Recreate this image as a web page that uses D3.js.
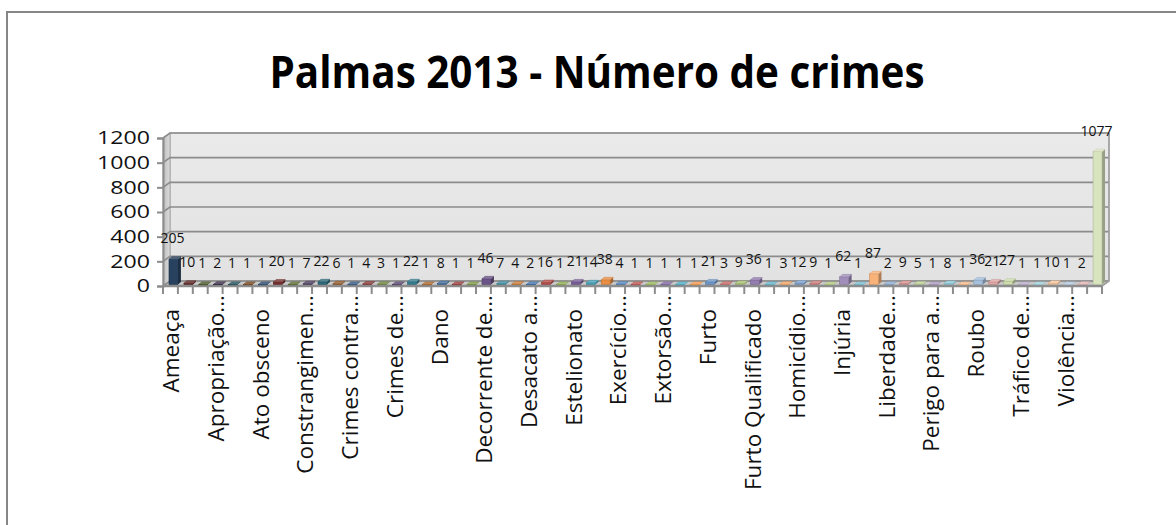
<!DOCTYPE html>
<html>
<head>
<meta charset="utf-8">
<script src="https://cdn.jsdelivr.net/npm/d3@7"></script>
<style>
  html, body { margin: 0; padding: 0; background: #fff; }
  svg { display: block; }
  text { font-family: "Open Sans", "DejaVu Sans", sans-serif; }
</style>
</head>
<body>
<svg id="chart" width="1176" height="525"></svg>
<script>
// ---------------- data ----------------
const title = "Palmas 2013 - Número de crimes";
// visible category labels (one every third category, as shown on the axis)
const categoryLabels = ["Ameaça","Apropriação...","Ato obsceno","Constrangimen...","Crimes contra...",
  "Crimes de...","Dano","Decorrente de...","Desacato a...","Estelionato","Exercício...",
  "Extorsão...","Furto","Furto Qualificado","Homicídio...","Injúria","Liberdade...",
  "Perigo para a...","Roubo","Tráfico de...","Violência..."];
const values = [205,10,1,2,1,1,1,20,1,7,
                22,6,1,4,3,1,22,1,8,1,
                1,46,7,4,2,16,1,21,14,38,
                4,1,1,1,1,1,21,3,9,36,
                1,3,12,9,1,62,1,87,2,9,
                5,1,8,1,36,21,27,1,1,10,
                1,2,1077];
const yTicks = [0,200,400,600,800,1000,1200];
const palette = ["#4F81BD","#C0504D","#9BBB59","#8064A2","#4BACC6","#F79646"];

// ---------------- layout ----------------
const svg = d3.select("#chart");
const W = 1176, H = 525;
const X0 = 163, X1 = 1102;      // front floor edge
const DX = 7, DY = -5;          // depth offset of back wall
const n = values.length;

svg.append("rect").attr("x", 0).attr("y", 0).attr("width", W).attr("height", H).attr("fill", "#fff");
svg.append("rect").attr("x", 7).attr("y", 12).attr("width", 1200).attr("height", 530)
  .attr("fill", "#fff").attr("stroke", "#868686").attr("stroke-width", 2);

const x = d3.scaleBand().domain(d3.range(n)).range([X0, X1]).padding(0);
const y = d3.scaleLinear().domain([0, 1200]).range([286, 138]);

// ---- walls ----
const defs = svg.append("defs");
const gW = defs.append("linearGradient").attr("id", "wallGrad").attr("x1", 0).attr("y1", 0).attr("x2", 0).attr("y2", 1);
gW.append("stop").attr("offset", "0%").attr("stop-color", "#eaeaea");
gW.append("stop").attr("offset", "100%").attr("stop-color", "#e2e2e2");
const gL = defs.append("linearGradient").attr("id", "sideGrad").attr("x1", 0).attr("y1", 0).attr("x2", 1).attr("y2", 0);
gL.append("stop").attr("offset", "0%").attr("stop-color", "#bdbdbd");
gL.append("stop").attr("offset", "100%").attr("stop-color", "#dcdcdc");

const yTop = y(1200), yBot = y(0);
svg.append("rect").attr("x", X0 + DX).attr("y", yTop + DY).attr("width", X1 - X0).attr("height", yBot - yTop)
  .attr("fill", "url(#wallGrad)").attr("stroke", "#a6a6a6").attr("stroke-width", 1);
svg.append("path")
  .attr("d", `M${X0},${yTop} L${X0 + DX},${yTop + DY} L${X0 + DX},${yBot + DY} L${X0},${yBot} Z`)
  .attr("fill", "url(#sideGrad)").attr("stroke", "#a6a6a6").attr("stroke-width", 1);
svg.append("path")
  .attr("d", `M${X0},${yBot} L${X1},${yBot} L${X1 + DX},${yBot + DY} L${X0 + DX},${yBot + DY} Z`)
  .attr("fill", "#c9c9c9").attr("stroke", "#9a9a9a").attr("stroke-width", 1);

// gridlines (side wall + back wall)
const grid = svg.append("g").attr("stroke", "#8c8c8c").attr("stroke-width", 1.6).attr("fill", "none");
yTicks.forEach(t => {
  grid.append("path").attr("d",
    `M${X0},${y(t)} L${X0 + DX},${y(t) + DY} L${X1 + DX},${y(t) + DY}`);
});
grid.append("path").attr("d", `M${X1 + DX},${yTop + DY} L${X1 + DX},${yBot + DY} L${X1},${yBot}`)
  .attr("stroke", "#a0a0a0");

// y axis (line + ticks from the axis generator, labels drawn stretched like the reference)
const yAxis = svg.append("g").attr("transform", `translate(${X0},0)`)
  .call(d3.axisLeft(y).tickValues(yTicks).tickSize(6).tickFormat(""));
yAxis.select(".domain").attr("stroke", "#8c8c8c").attr("stroke-width", 2);
yAxis.selectAll(".tick line").attr("stroke", "#8c8c8c").attr("stroke-width", 2);
svg.append("g").selectAll("text").data(yTicks).join("text")
  .attr("transform", d => `translate(150,${y(d)}) scale(1.3,1)`)
  .attr("text-anchor", "end").attr("dy", "0.36em")
  .attr("font-size", 17.8).attr("fill", "#111")
  .text(d => d3.format("d")(d));

// x axis line + boundary ticks
const xAxisG = svg.append("g");
xAxisG.append("line").attr("x1", X0).attr("x2", X1).attr("y1", yBot).attr("y2", yBot)
  .attr("stroke", "#8c8c8c").attr("stroke-width", 2.5);
const bounds = d3.range(n).map(i => x(i)).concat([X1]);
xAxisG.selectAll("line.tk").data(bounds).join("line").attr("class", "tk")
  .attr("x1", d => d).attr("x2", d => d).attr("y1", yBot).attr("y2", yBot + 8)
  .attr("stroke", "#8c8c8c").attr("stroke-width", 2);

// ---- bars (3D columns) ----
function shade(c, f) {
  const col = d3.rgb(c);
  if (f >= 0) return d3.interpolateRgb(col, "#ffffff")(f);
  return d3.interpolateRgb(col, "#000000")(-f);
}
const nCycles = Math.ceil(n / palette.length);
function barColor(i) {
  const cyc = Math.floor(i / palette.length);
  const f = -0.5 + 1.1 * (cyc / (nCycles - 1));
  return shade(palette[i % palette.length], f);
}
const bw = x.bandwidth() * 0.6;
const OX = 3, OY = -1.5;   // bar front face offset
const BX = 3, BY = -2.5;   // bar depth
const bars = svg.append("g");
values.forEach((v, i) => {
  const c = x(i) + x.bandwidth() / 2 + OX;
  const xl = c - bw / 2, xr = c + bw / 2;
  const yt = y(v) + OY, yb = y(0) + OY;
  const col = barColor(i);
  const g = bars.append("g");
  g.append("path").attr("d", `M${xr},${yt} L${xr + BX},${yt + BY} L${xr + BX},${yb + BY} L${xr},${yb} Z`)
    .attr("fill", shade(col, -0.3));
  g.append("rect").attr("x", xl).attr("y", yt).attr("width", bw).attr("height", Math.max(0.5, yb - yt))
    .attr("fill", col).attr("stroke", shade(col, -0.2)).attr("stroke-width", 0.6);
  g.append("path").attr("d", `M${xl},${yt} L${xl + BX},${yt + BY} L${xr + BX},${yt + BY} L${xr},${yt} Z`)
    .attr("fill", shade(col, 0.2)).attr("stroke", shade(col, -0.1)).attr("stroke-width", 0.5);
});

// data labels
svg.append("g").selectAll("text").data(values).join("text")
  .attr("x", (d, i) => x(i) + x.bandwidth() / 2 + 2)
  .attr("y", d => y(d) + OY - 16)
  .attr("text-anchor", "middle").attr("font-size", 14).attr("fill", "#111")
  .text(d => d);

// category labels (every third category)
const catG = svg.append("g");
categoryLabels.forEach((lab, k) => {
  const i = k * 3;
  const c = x(i) + x.bandwidth() / 2;
  const trunc = lab.endsWith("...");
  const yEnd = trunc ? 295 : 309;
  catG.append("text")
    .attr("transform", `translate(${c + 1},${yEnd}) rotate(-90)`)
    .attr("text-anchor", "end").attr("dy", "0.35em")
    .attr("font-size", 22.5).attr("fill", "#111")
    .text(lab);
});

// title (fitted to the reference width, slightly taller like the original font)
const tg = svg.append("g").attr("transform", "translate(597,88) scale(1,1.12)");
const tt = tg.append("text").attr("x", 0).attr("y", 0).attr("text-anchor", "middle")
  .attr("font-weight", "bold").attr("font-size", 40).attr("fill", "#000").text(title);
const tw = tt.node().getComputedTextLength();
tt.attr("font-size", 40 * 655 / tw);
</script>
</body>
</html>
